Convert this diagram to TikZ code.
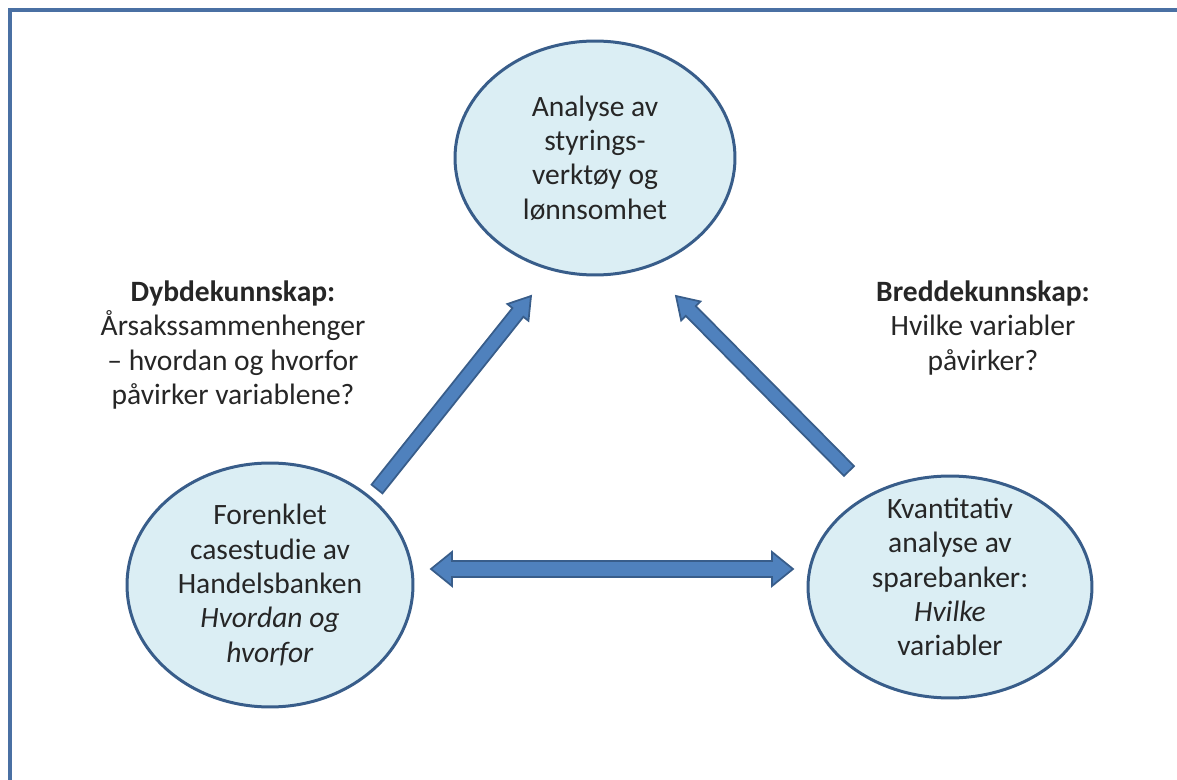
\documentclass[tikz,border=0pt]{standalone}
\usepackage{fontspec}
\setmainfont{Carlito}
\usetikzlibrary{shapes.geometric,calc}
\definecolor{framecolor}{RGB}{74,112,163}
\definecolor{bubblefill}{RGB}{219,238,244}
\definecolor{bubbleline}{RGB}{56,93,138}
\definecolor{arrowfill}{RGB}{79,129,189}

% block arrow: from, to, half shaft, half head, head length
\newcommand{\blockarrow}[5]{%
  \filldraw[bigarrow] ($(#1)!#3!-90:(#2)$) -- ($(#2)!#5!(#1)!#3!90:(#1)$)
    -- ($(#2)!#5!(#1)!#4!90:(#1)$) -- (#2) -- ($(#2)!#5!(#1)!#4!-90:(#1)$)
    -- ($(#2)!#5!(#1)!#3!-90:(#1)$) -- ($(#1)!#3!90:(#2)$) -- cycle;
}
% same, with a head at both ends
\newcommand{\doublearrow}[5]{%
  \filldraw[bigarrow] (#1) -- ($(#1)!#5!(#2)!#4!-90:(#2)$) -- ($(#1)!#5!(#2)!#3!-90:(#2)$)
    -- ($(#2)!#5!(#1)!#3!90:(#1)$) -- ($(#2)!#5!(#1)!#4!90:(#1)$) -- (#2)
    -- ($(#2)!#5!(#1)!#4!-90:(#1)$) -- ($(#2)!#5!(#1)!#3!-90:(#1)$)
    -- ($(#1)!#5!(#2)!#3!90:(#2)$) -- ($(#1)!#5!(#2)!#4!90:(#2)$) -- cycle;
}

\begin{document}
\begin{tikzpicture}[
    x=0.02cm, y=-0.02cm,
    every node/.style={font=\fontsize{16.8}{19.5}\selectfont, text=black!85},
    bubble/.style={ellipse, draw=bubbleline, fill=bubblefill, line width=0.06cm,
        align=center, inner sep=0pt},
    label/.style={align=center},
    bigarrow/.style={fill=arrowfill, draw=bubbleline, line width=0.035cm, line join=miter}
]
    \useasboundingbox (0,0) rectangle (1177,780);
    \clip (0,0) rectangle (1177,780);

    % outer frame
    \draw[framecolor, line width=0.07cm] (10,10) rectangle (1220,820);

    % the three studies
    \node[bubble, minimum width=5.6cm, minimum height=4.68cm] (analyse) at (595,158)
        {Analyse av\\styrings-\\verktøy og\\lønnsomhet};
    \node[bubble, minimum width=5.72cm, minimum height=4.88cm] (case) at (270,585)
        {Forenklet\\casestudie av\\Handelsbanken\\\textit{Hvordan og}\\\textit{hvorfor}};
    \node[bubble, minimum width=5.68cm, minimum height=4.44cm] (kvant) at (950,587) {};
    \node[label] (kvanttext) at ([yshift=0.2cm]kvant.center)
        {Kvantitativ\\analyse av\\sparebanker:\\\textit{Hvilke}\\variabler};

    % side texts
    \node[label] (dybde) at (233,345)
        {\textbf{Dybdekunnskap:}\\Årsakssammenhenger\\– hvordan og hvorfor\\påvirker variablene?};
    \node[label] (bredde) at (983,328)
        {\textbf{Breddekunnskap:}\\Hvilke variabler\\påvirker?};

    % arrow ends
    \coordinate (lftail) at (377,489);
    \coordinate (lfhead) at (531,296);
    \coordinate (rttail) at (849,471);
    \coordinate (rthead) at (676,296);
    \coordinate (hzleft) at (431,569);
    \coordinate (hzright) at (793,569);

    \blockarrow{lftail}{lfhead}{0.14cm}{0.27cm}{0.42cm}
    \blockarrow{rttail}{rthead}{0.14cm}{0.27cm}{0.42cm}
    \doublearrow{hzleft}{hzright}{0.16cm}{0.34cm}{0.42cm}
\end{tikzpicture}
\end{document}
